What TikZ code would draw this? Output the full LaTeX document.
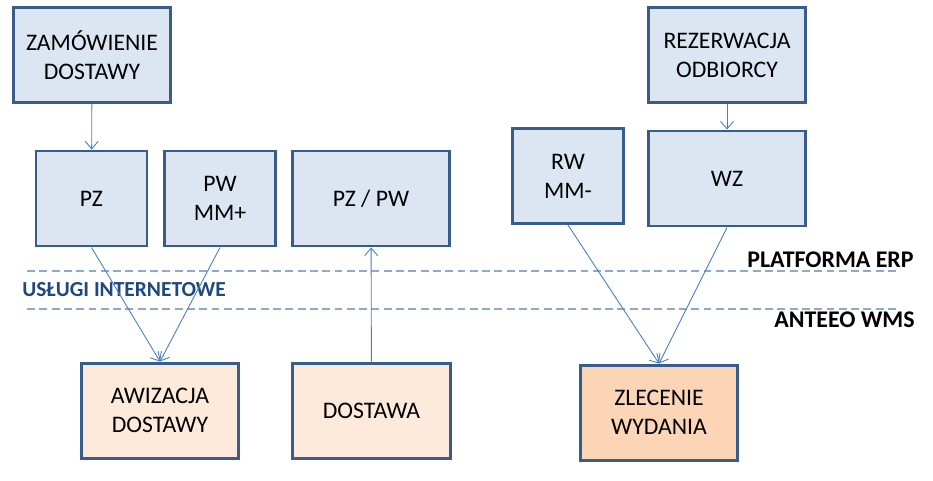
\documentclass[tikz,border=0pt]{standalone}
\usepackage{fontspec}
\setmainfont{Carlito}
\usetikzlibrary{positioning,arrows.meta}
\definecolor{boxrule}{RGB}{56,93,138}
\definecolor{erpfill}{RGB}{220,230,242}
\definecolor{wmsfill}{RGB}{253,234,218}
\definecolor{wmsstrong}{RGB}{251,213,181}
\definecolor{linkblue}{RGB}{74,126,187}
\definecolor{layerline}{RGB}{140,170,205}
\definecolor{layertext}{RGB}{31,73,125}
\tikzset{
  doc/.style={rectangle,draw=boxrule,line width=1.7pt,fill=erpfill,align=center,minimum width=3.15cm,minimum height=1.9cm,font=\fontsize{13.5}{16.4}\selectfont},
  smalldoc/.style={doc,minimum width=2.22cm},
  wmsdoc/.style={doc,fill=wmsfill},
  link/.style={-{Straight Barb[length=1.5mm,width=2.6mm]},draw=linkblue,line width=0.5pt},
  layer/.style={draw=layerline,line width=0.9pt,dash pattern=on 4.5pt off 2.5pt},
  layername/.style={font=\fontsize{13.6}{15}\bfseries\selectfont,inner sep=0pt}
}
\begin{document}
\begin{tikzpicture}
  \useasboundingbox (0,0) rectangle (18.66,9.6);
  % system ERP
  \node[doc] (zam) at (1.84,8.5) {ZAMÓWIENIE\\DOSTAWY};
  \node[smalldoc] (pz) at (1.83,5.63) {PZ};
  \node[smalldoc] (pw) at (4.4,5.63) {PW\\MM+};
  \node[doc] (pzpw) at (7.42,5.63) {PZ / PW};
  \node[smalldoc] (rw) at (11.36,6.08) {RW\\MM-};
  \node[doc] (rez) at (14.54,8.5) {REZERWACJA\\ODBIORCY};
  \node[doc] (wz) at (14.54,6.03) {WZ};
  % system WMS
  \node[wmsdoc] (awi) at (3.2,1.39) {AWIZACJA\\DOSTAWY};
  \node[wmsdoc] (dost) at (7.43,1.39) {DOSTAWA};
  \node[wmsdoc,fill=wmsstrong] (zlec) at (13.18,1.35) {ZLECENIE\\WYDANIA};

  \coordinate (erpL) at (0.54,4.18);
  \coordinate (erpR) at (17.94,4.18);
  \coordinate (wmsL) at (0.54,3.42);
  \coordinate (wmsR) at (17.94,3.42);
  \draw[layer] (erpL) -- (erpR);
  \draw[layer] (wmsL) -- (wmsR);

  \node[layername,anchor=east] (erp) at (18.28,4.4) {PLATFORMA ERP};
  \node[layername,anchor=east] (wms) at (18.3,3.2) {ANTEEO WMS};
  \node[layername,anchor=west,text=layertext,font=\fontsize{12.2}{14}\bfseries\selectfont] (ws) at (0.44,3.8) {USŁUGI INTERNETOWE};

  \draw[link] (zam) -- (pz);
  \draw[link] (rez) -- (wz);
  \draw[link] (pz.south) -- (awi.north);
  \draw[link] (pw.south) -- (awi.north);
  \draw[link] (dost) -- (pzpw);
  \draw[link] (rw.south) -- (zlec.north);
  \draw[link] (wz.south) -- (zlec.north);
\end{tikzpicture}
\end{document}
